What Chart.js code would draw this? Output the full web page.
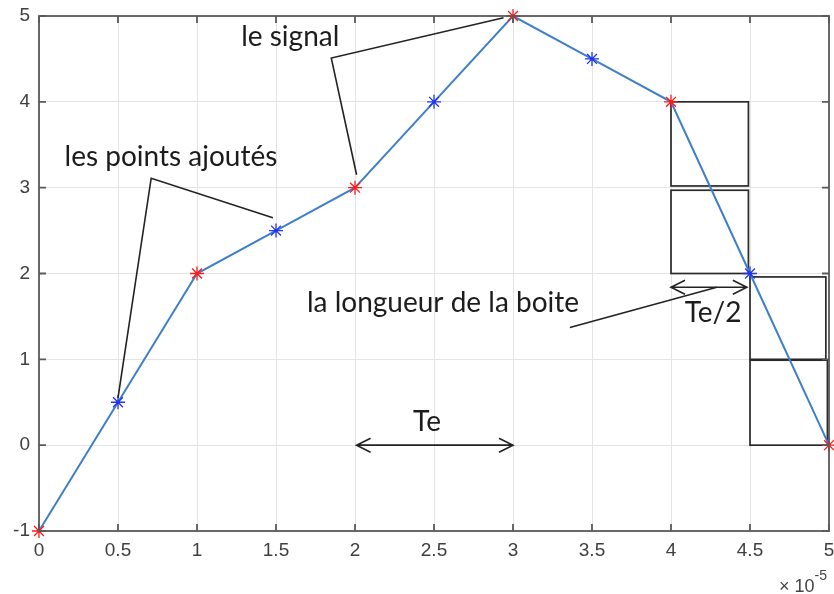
<!DOCTYPE html>
<html>
<head>
<meta charset="utf-8">
<script src="https://cdn.jsdelivr.net/npm/chart.js@4/dist/chart.umd.min.js"></script>
<style>
  html, body { margin: 0; padding: 0; background: #fff; }
  #wrap { width: 834px; height: 594px; }
</style>
</head>
<body>
<div id="wrap"><canvas id="signalChart"></canvas></div>
<script>
// time axis in units of 1e-5 s, signal samples
const xs = [0, 0.5, 1, 1.5, 2, 2.5, 3, 3.5, 4, 4.5, 5];
const ys = [-1, 0.5, 2, 2.5, 3, 4, 5, 4.5, 4, 2, 0];
const xTicks = [0, 0.5, 1, 1.5, 2, 2.5, 3, 3.5, 4, 4.5, 5];
const yTicks = [-1, 0, 1, 2, 3, 4, 5];
const xExponent = '-5';

// boxes drawn under the signal: [x0, x1, y0, y1]
const boxes = [
  [4.0, 4.49, 3.02, 4.0],
  [4.0, 4.49, 2.0, 2.97],
  [4.5, 4.98, 1.0, 1.96],
  [4.5, 4.99, 0.0, 0.99]
];

// leader lines for the labels (polylines in data coords)
const leaders = [
  [[0.50, 0.55], [0.71, 3.11], [1.48, 2.65]],
  [[2.01, 3.15], [1.85, 4.51], [2.94, 4.98]],
  [[3.36, 1.37], [4.29, 1.84]]
];

// double arrows: [x0, x1, y]
const arrows = [
  [2.01, 3.0, 0.0],
  [4.0, 4.48, 1.84]
];

// text labels: [text, x, y]
const notes = [
  ['les points ajoutés', 0.835, 3.36],
  ['le signal', 1.59, 4.755],
  ['la longueur de la boite', 2.557, 1.656],
  ['Te/2', 4.266, 1.54],
  ['Te', 2.456, 0.27]
];

const frameColor = '#5a5a5a';
const inkColor = '#1c1c1c';

const overlay = {
  id: 'overlay',
  beforeDatasetsDraw(chart) {
    const { ctx, scales: { x, y } } = chart;
    ctx.save();
    ctx.strokeStyle = '#2a2a2a';
    ctx.lineWidth = 1.7;
    boxes.forEach(([x0, x1, y0, y1]) => {
      const px0 = x.getPixelForValue(x0), px1 = x.getPixelForValue(x1);
      const py0 = y.getPixelForValue(y0), py1 = y.getPixelForValue(y1);
      ctx.strokeRect(px0, py1, px1 - px0, py0 - py1);
    });
    ctx.restore();
  },
  afterDatasetsDraw(chart) {
    const { ctx, chartArea: a, scales: { x, y } } = chart;
    ctx.save();

    // frame + inward ticks
    ctx.strokeStyle = frameColor;
    ctx.lineWidth = 1.8;
    ctx.strokeRect(a.left, a.top, a.right - a.left, a.bottom - a.top);
    ctx.beginPath();
    xTicks.forEach(v => {
      const px = x.getPixelForValue(v);
      ctx.moveTo(px, a.bottom); ctx.lineTo(px, a.bottom - 7);
      ctx.moveTo(px, a.top); ctx.lineTo(px, a.top + 7);
    });
    yTicks.forEach(v => {
      const py = y.getPixelForValue(v);
      ctx.moveTo(a.left, py); ctx.lineTo(a.left + 7, py);
      ctx.moveTo(a.right, py); ctx.lineTo(a.right - 7, py);
    });
    ctx.stroke();

    // leader lines
    ctx.strokeStyle = '#222';
    ctx.lineWidth = 1.6;
    leaders.forEach(pts => {
      ctx.beginPath();
      pts.forEach(([vx, vy], i) => {
        const px = x.getPixelForValue(vx), py = y.getPixelForValue(vy);
        if (i === 0) ctx.moveTo(px, py); else ctx.lineTo(px, py);
      });
      ctx.stroke();
    });

    // double arrows with open heads
    arrows.forEach(([x0, x1, vy]) => {
      const p0 = x.getPixelForValue(x0), p1 = x.getPixelForValue(x1);
      const py = y.getPixelForValue(vy);
      ctx.beginPath();
      ctx.moveTo(p0, py); ctx.lineTo(p1, py);
      ctx.moveTo(p0 + 14, py - 7); ctx.lineTo(p0, py); ctx.lineTo(p0 + 14, py + 7);
      ctx.moveTo(p1 - 14, py - 7); ctx.lineTo(p1, py); ctx.lineTo(p1 - 14, py + 7);
      ctx.stroke();
    });

    // labels
    ctx.fillStyle = inkColor;
    ctx.font = '28px Lato';
    ctx.textAlign = 'center';
    ctx.textBaseline = 'middle';
    notes.forEach(([t, vx, vy]) => {
      ctx.fillText(t, x.getPixelForValue(vx), y.getPixelForValue(vy));
    });

    // exponent of the time axis
    ctx.fillStyle = '#444';
    ctx.textAlign = 'right';
    ctx.textBaseline = 'alphabetic';
    ctx.font = '14px "Liberation Sans"';
    ctx.fillText(xExponent, 827, 580);
    const w = ctx.measureText(xExponent).width;
    ctx.font = '18px "Liberation Sans"';
    ctx.fillText('\u00d7 10', 827 - w, 592);
    ctx.restore();
  }
};

new Chart(document.getElementById('signalChart'), {
  type: 'scatter',
  data: {
    datasets: [{
      data: xs.map((v, i) => ({ x: v, y: ys[i] })),
      showLine: true,
      clip: false,
      borderColor: '#3f7fca',
      borderWidth: 2,
      pointStyle: 'star',
      pointRadius: 7,
      pointBorderWidth: 1.3,
      pointBorderColor: xs.map(v => Number.isInteger(v) ? '#ff1a1a' : '#2233ee'),
      pointBackgroundColor: 'transparent'
    }]
  },
  plugins: [overlay],
  options: {
    responsive: true,
    maintainAspectRatio: false,
    animation: false,
    layout: { autoPadding: false, padding: { top: 16, right: 5, left: 0, bottom: 0 } },
    plugins: { legend: { display: false }, tooltip: { enabled: false } },
    scales: {
      x: {
        type: 'linear',
        min: 0,
        max: 5,
        afterBuildTicks: s => { s.ticks = xTicks.map(v => ({ value: v })); },
        afterFit: s => { s.height = 63; s.paddingLeft = 0; s.paddingRight = 0; },
        border: { display: false },
        grid: { color: '#e4e4e4', lineWidth: 1, drawTicks: false },
        ticks: {
          padding: 8,
          color: '#404040',
          font: { family: 'Liberation Sans', size: 19 },
          callback: v => String(v),
          maxRotation: 0,
          autoSkip: false
        }
      },
      y: {
        type: 'linear',
        min: -1,
        max: 5,
        afterBuildTicks: s => { s.ticks = yTicks.map(v => ({ value: v })); },
        afterFit: s => { s.width = 39; s.paddingTop = 0; s.paddingBottom = 0; },
        border: { display: false },
        grid: { color: '#e4e4e4', lineWidth: 1, drawTicks: false },
        ticks: {
          padding: 9,
          color: '#404040',
          font: { family: 'Liberation Sans', size: 19 },
          callback: v => String(v)
        }
      }
    }
  }
});
</script>
</body>
</html>
